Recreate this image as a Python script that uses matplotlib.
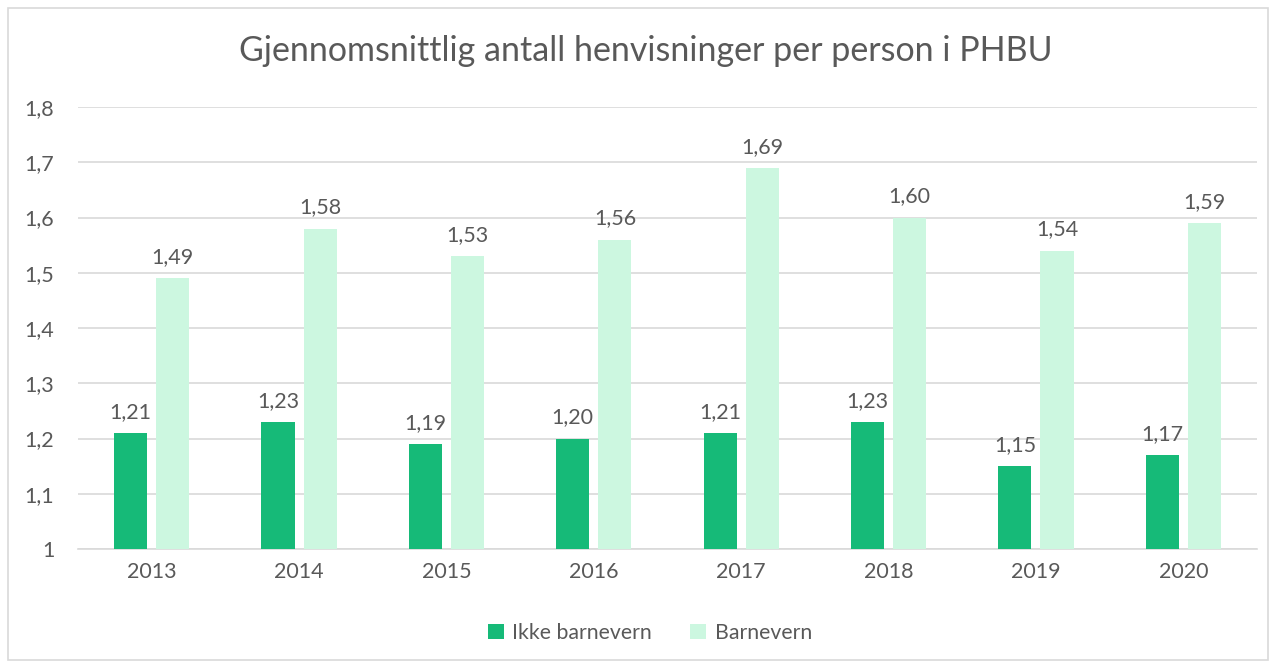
import matplotlib
matplotlib.use("Agg")
from matplotlib import pyplot as plt
from matplotlib.patches import Rectangle
import numpy as np

years = ["2013", "2014", "2015", "2016", "2017", "2018", "2019", "2020"]
ikke_barnevern = [1.21, 1.23, 1.19, 1.20, 1.21, 1.23, 1.15, 1.17]
barnevern = [1.49, 1.58, 1.53, 1.56, 1.69, 1.60, 1.54, 1.59]

dark_green = "#16BA78"
light_green = "#CCF7E0"
text_color = "#595959"
grid_color = "#D9D9D9"

plt.rcParams['font.family'] = ['Lato', 'DejaVu Sans']

fig = plt.figure(figsize=(12.75, 6.66), dpi=100)
ax = fig.add_axes([78 / 1275, 1 - 549 / 666, (1257 - 78) / 1275, (549 - 107) / 666])

x = np.arange(len(years))
width = 0.225
offset = 0.143

bars1 = ax.bar(x - offset, ikke_barnevern, width, color=dark_green, label="Ikke barnevern", zorder=3)
bars2 = ax.bar(x + offset, barnevern, width, color=light_green, label="Barnevern", zorder=3)

for bars in (bars1, bars2):
    for b in bars:
        v = b.get_height()
        ax.annotate(("%.2f" % v).replace(".", ","), (b.get_x() + b.get_width() / 2, v),
                    xytext=(0, 8), textcoords="offset points", ha="center", va="bottom",
                    fontsize=15.5, color=text_color)

ax.set_ylim(1.0, 1.8)
ax.set_xlim(-0.5, len(years) - 0.5)
yt = np.arange(1.0, 1.81, 0.1)
ax.set_yticks(yt)
ax.set_yticklabels(["1" if abs(t - 1) < 1e-9 else ("%.1f" % t).replace(".", ",") for t in yt])
ax.set_xticks(x)
ax.set_xticklabels(years)
ax.tick_params(axis="both", length=0, labelsize=15.5, labelcolor=text_color)
ax.tick_params(axis="y", pad=17)
ax.tick_params(axis="x", pad=9)
ax.grid(axis="y", color=grid_color, linewidth=1.2, zorder=0)
for s in ["top", "right", "left"]:
    ax.spines[s].set_visible(False)
ax.spines["bottom"].set_color(grid_color)
ax.spines["bottom"].set_linewidth(1.2)

fig.text(646 / 1275, 1 - 51 / 666, "Gjennomsnittlig antall henvisninger per person i PHBU",
         ha="center", va="center", fontsize=24.5, color=text_color)

fig.legend(loc="center", bbox_to_anchor=(650 / 1275, 1 - 633 / 666), ncol=2, frameon=False,
           fontsize=15.3, labelcolor=text_color, handlelength=0.75, handleheight=0.75,
           columnspacing=1.8, handletextpad=0.4)

fig.patches.append(Rectangle((8 / 1275, 6 / 666), 1260 / 1275, 652 / 666, transform=fig.transFigure,
                             fill=False, edgecolor=grid_color, linewidth=1.2))

fig.savefig("out.png", dpi=100)
